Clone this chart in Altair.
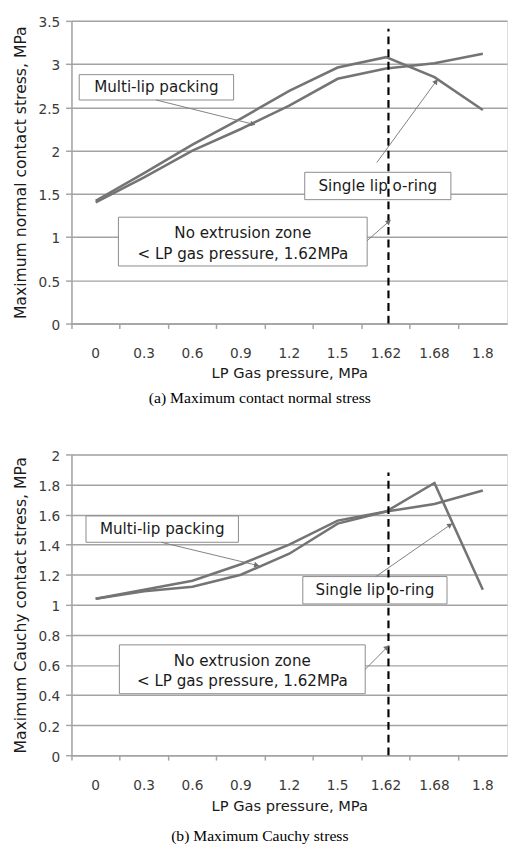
import math
import altair as alt
import pandas as pd

# ---------------- data ----------------
pressure = ["0", "0.3", "0.6", "0.9", "1.2", "1.5", "1.62", "1.68", "1.8"]

normal_single = [1.42, 1.74, 2.07, 2.37, 2.69, 2.96, 3.08, 2.85, 2.47]
normal_multi = [1.40, 1.69, 2.00, 2.25, 2.52, 2.83, 2.95, 3.01, 3.12]

cauchy_single = [1.04, 1.10, 1.16, 1.27, 1.40, 1.56, 1.62, 1.81, 1.10]
cauchy_multi = [1.04, 1.09, 1.12, 1.20, 1.34, 1.54, 1.62, 1.67, 1.76]

# annotation boxes (x in category-index units 0..9, y in data units)
top_box_x0 = [0.16, 4.82, 0.97]
top_box_x1 = [3.35, 7.84, 6.11]
top_box_y0 = [2.585, 1.433, 0.666]
top_box_y1 = [2.878, 1.749, 1.230]
top_label = ["Multi-lip packing", "Single lip o-ring"]
top_label_x = [1.755, 6.33]
top_label_y = [2.73, 1.591]
top_note = ["No extrusion zone\n< LP gas pressure, 1.62MPa"]
top_note_x = [3.54]
top_note_y = [0.925]
top_arrow_x0 = [1.75, 6.31, 6.11]
top_arrow_y0 = [2.585, 1.862, 0.959]
top_arrow_x1 = [3.79, 7.56, 6.59]
top_arrow_y1 = [2.30, 2.82, 1.196]
top_dash = [6.55, 0.0, 3.41]

bot_box_x0 = [0.30, 4.78, 0.99]
bot_box_x1 = [3.45, 7.76, 6.07]
bot_box_y0 = [1.416, 1.006, 0.409]
bot_box_y1 = [1.591, 1.188, 0.734]
bot_label = ["Multi-lip packing", "Single lip o-ring"]
bot_label_x = [1.875, 6.27]
bot_label_y = [1.5035, 1.097]
bot_note = ["No extrusion zone\n< LP gas pressure, 1.62MPa"]
bot_note_x = [3.53]
bot_note_y = [0.560]
bot_arrow_x0 = [1.855, 6.29, 6.07]
bot_arrow_y0 = [1.416, 1.188, 0.571]
bot_arrow_x1 = [3.87, 7.86, 6.55]
bot_arrow_y1 = [1.26, 1.539, 0.727]
bot_dash = [6.55, 0.0, 1.88]

# ---------------- style ----------------
W = 446
SANS = "DejaVu Sans"
SERIF = "Liberation Serif"
GRID = "#a3a3a3"
LINE = "#747474"
ARROW = "#808080"
LINE_H = 21


def panel(single, multi, ymax, yvals, ytitle, caption, cap_offset, xtitle_pad, H,
          bx0, bx1, by0, by1, lab, lx, ly, note, nx, ny, ax0, ay0, ax1, ay1, dash):
    yscale = alt.Scale(domain=[0, ymax], nice=False, zero=True)
    xq = alt.Scale(domain=[0, 9], nice=False, zero=False)

    def yaxis():
        return alt.Axis(title=ytitle, values=yvals, format="~g", grid=True,
                        gridColor=GRID, gridWidth=1.5, tickSize=6, tickWidth=1.5,
                        tickColor=GRID, domainColor=GRID, domainWidth=1.5,
                        labelPadding=6, labelOffset=2, labelFont=SANS, labelFontSize=14,
                        labelColor="#3a3a3a", titleFont=SANS, titleFontSize=16,
                        titleFontWeight="normal", titleColor="#1a1a1a", titlePadding=10)

    df = pd.DataFrame({
        "p": pressure * 2,
        "v": single + multi,
        "s": ["Single lip o-ring"] * len(pressure) + ["Multi-lip packing"] * len(pressure),
    })
    lines = alt.Chart(df).mark_line(color=LINE, strokeWidth=2.6).encode(
        x=alt.X("p:N", sort=pressure,
                scale=alt.Scale(type="band", paddingInner=0, paddingOuter=0),
                axis=alt.Axis(title="LP Gas pressure, MPa", bandPosition=0, labelAngle=0,
                              grid=False, tickSize=5, tickWidth=1.5, tickColor=GRID,
                              domainColor=GRID, domainWidth=1.5,
                              labelPadding=19, labelFont=SANS, labelFontSize=14,
                              labelColor="#3a3a3a", titleFont=SANS, titleFontSize=15,
                              titleFontWeight="normal", titleColor="#1a1a1a",
                              titlePadding=xtitle_pad)),
        y=alt.Y("v:Q", scale=yscale, axis=yaxis()),
        detail="s:N",
    )

    boxes = alt.Chart(pd.DataFrame({"x0": bx0, "x1": bx1, "v": by0, "y1": by1})).mark_rect(
        fill="white", stroke="#8a8a8a", strokeWidth=1
    ).encode(
        x=alt.X("x0:Q", scale=xq, axis=None), x2="x1:Q",
        y=alt.Y("v:Q", scale=yscale, axis=yaxis()), y2="y1:Q",
    )

    labels = alt.Chart(pd.DataFrame({"t": lab, "x": lx, "v": ly})).mark_text(
        font=SANS, fontSize=15.5, color="#1a1a1a", baseline="middle", align="center"
    ).encode(
        x=alt.X("x:Q", scale=xq, axis=None),
        y=alt.Y("v:Q", scale=yscale, axis=yaxis()),
        text="t:N",
    )

    notes = alt.Chart(pd.DataFrame({"t": note, "x": nx, "v": ny})).mark_text(
        font=SANS, fontSize=15.5, color="#1a1a1a", baseline="middle", align="center",
        lineBreak="\n", lineHeight=LINE_H, dy=-LINE_H / 2
    ).encode(
        x=alt.X("x:Q", scale=xq, axis=None),
        y=alt.Y("v:Q", scale=yscale, axis=yaxis()),
        text="t:N",
    )

    dashed = alt.Chart(pd.DataFrame({"x": [dash[0]], "v": [dash[1]], "y1": [dash[2]]})).mark_rule(
        color="black", strokeWidth=2.2, strokeDash=[8, 5]
    ).encode(
        x=alt.X("x:Q", scale=xq, axis=None),
        y=alt.Y("v:Q", scale=yscale, axis=yaxis()), y2="y1:Q",
    )

    arrows = alt.Chart(pd.DataFrame({"x0": ax0, "v": ay0, "x1": ax1, "y1": ay1})).mark_rule(
        color=ARROW, strokeWidth=1
    ).encode(
        x=alt.X("x0:Q", scale=xq, axis=None), x2="x1:Q",
        y=alt.Y("v:Q", scale=yscale, axis=yaxis()), y2="y1:Q",
    )

    # arrow heads: angle from the pixel direction of each arrow
    bw = W / 9.0
    pv = H / ymax
    hx, hy, ang = [], [], []
    for a, b, c, d in zip(ax0, ay0, ax1, ay1):
        dx = (c - a) * bw
        dyu = (d - b) * pv
        L = math.hypot(dx, dyu)
        ang.append(math.degrees(math.atan2(dx, dyu)) % 360)
        back = 3.0
        hx.append(c - dx / L * back / bw)
        hy.append(d - dyu / L * back / pv)
    heads = alt.Chart(pd.DataFrame({"x": hx, "v": hy, "a": ang})).mark_point(
        shape="triangle", filled=True, size=36, color="#6e6e6e", opacity=1
    ).encode(
        x=alt.X("x:Q", scale=xq, axis=None),
        y=alt.Y("v:Q", scale=yscale, axis=yaxis()),
        angle=alt.Angle("a:Q", scale=None),
    )

    return alt.layer(lines, boxes, labels, notes, dashed, arrows, heads).resolve_scale(
        x="independent"
    ).properties(
        width=W, height=H,
        title=alt.TitleParams(caption, orient="bottom", anchor="middle", frame="bounds",
                              font=SERIF, fontSize=16, fontWeight="normal", color="black",
                              offset=cap_offset),
    )


top = panel(normal_single, normal_multi, 3.5, [0, 0.5, 1, 1.5, 2, 2.5, 3, 3.5],
            "Maximum normal contact stress, MPa", "(a)  Maximum  contact  normal  stress", 10, 5, 310,
            top_box_x0, top_box_x1, top_box_y0, top_box_y1,
            top_label, top_label_x, top_label_y, top_note, top_note_x, top_note_y,
            top_arrow_x0, top_arrow_y0, top_arrow_x1, top_arrow_y1, top_dash)

bottom = panel(cauchy_single, cauchy_multi, 2.0, [0, 0.2, 0.4, 0.6, 0.8, 1, 1.2, 1.4, 1.6, 1.8, 2],
               "Maximum Cauchy contact stress, MPa", "(b)  Maximum  Cauchy  stress", 15, 7, 308,
               bot_box_x0, bot_box_x1, bot_box_y0, bot_box_y1,
               bot_label, bot_label_x, bot_label_y, bot_note, bot_note_x, bot_note_y,
               bot_arrow_x0, bot_arrow_y0, bot_arrow_x1, bot_arrow_y1, bot_dash)

chart = alt.vconcat(top, bottom, spacing=43).properties(
    padding={"left": 4, "top": -3, "right": 0, "bottom": 0}
).configure_view(stroke=None).configure(background="white")

chart.save("out.html", embed_options={"renderer": "svg", "actions": False})
